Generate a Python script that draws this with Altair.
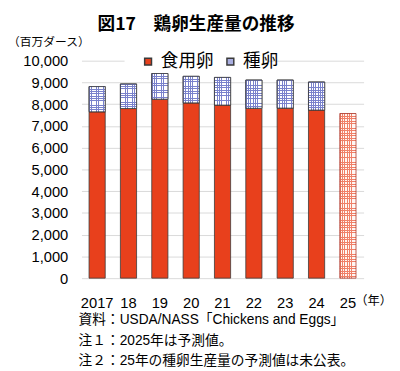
import altair as alt
import pandas as pd

years = ["2017", "18", "19", "20", "21", "22", "23", "24", "25"]
table_eggs = [7650, 7800, 8230, 8060, 7960, 7810, 7820, 7730, 7570]   # 食用卵 (million dozen)
hatching = [1160, 1130, 1180, 1220, 1270, 1300, 1290, 1290, None]     # 種卵 (2025 not published)
series = ["食用卵", "種卵"]
y_ticks = [0, 1000, 2000, 3000, 4000, 5000, 6000, 7000, 8000, 9000, 10000]

title_text = "図17　鶏卵生産量の推移"
unit_text = "（百万ダース）"
year_unit = "（年）"
notes = [
    "資料：USDA/NASS「Chickens and Eggs」",
    "注１：2025年は予測値。",
    "注２：25年の種卵生産量の予測値は未公表。",
]

RED = "#e8401c"
LAV = "#a9aee0"
JP = "Liberation Sans, Noto Sans CJK JP"

rows = []
for y, t, h in zip(years, table_eggs, hatching):
    if h is None:
        continue
    rows.append({"year": y, "series": series[0], "start": 0, "end": t, "ord": 0})
    rows.append({"year": y, "series": series[1], "start": t, "end": t + h, "ord": 1})
df = pd.DataFrame(rows)
df_h = df[df["series"] == series[1]]
df_fc = pd.DataFrame([{"year": y, "start": 0, "end": t}
                      for y, t, h in zip(years, table_eggs, hatching) if h is None])


def stripes(n, frac, line, gap, vertical):
    stops = []
    for k in range(n):
        a = k / n
        b = (k + frac) / n
        c = (k + 1) / n
        stops += [alt.GradientStop(offset=a, color=line), alt.GradientStop(offset=b, color=line),
                  alt.GradientStop(offset=b, color=gap), alt.GradientStop(offset=c, color=gap)]
    if vertical:
        return alt.LinearGradient(gradient="linear", stops=stops, x1=0, y1=0, x2=1, y2=0)
    return alt.LinearGradient(gradient="linear", stops=stops, x1=0, y1=0, x2=0, y2=1)


CLEAR = "rgba(255,255,255,0)"

xscale = alt.Scale(domain=years, paddingInner=0.484, paddingOuter=0.242)
yscale = alt.Scale(domain=[0, 10000], nice=False)

x_enc = alt.X("year:N", scale=xscale, sort=years,
              axis=alt.Axis(title=None, labelAngle=0, labelFontSize=15, labelFont="Liberation Sans",
                            labelColor="#000", domain=False, ticks=False, labelPadding=18, grid=False))
y_enc = alt.Y("end:Q", scale=yscale,
              axis=alt.Axis(title=None, values=y_ticks, format=",d", labelFontSize=15,
                            labelFont="Liberation Sans", labelColor="#000", domain=False, ticks=False,
                            labelPadding=14, grid=True, gridColor="#d9d9d9", gridWidth=1))

gap = alt.Chart(alt.Data(values=[{}])).mark_rect(color="white").encode(
    x=alt.value(44), x2=alt.value(190), y=alt.value(-3), y2=alt.value(3))

bars = alt.Chart(df).mark_bar(stroke="#3a3a3a", strokeWidth=0.8).encode(
    x=x_enc, y=y_enc, y2="start:Q",
    color=alt.Color("series:N", scale=alt.Scale(domain=series, range=[RED, LAV]),
                    legend=alt.Legend(title=None, orient="none", legendX=59, legendY=-8,
                                      direction="horizontal", symbolType="square", symbolSize=49,
                                      labelFontSize=18, labelFont="Noto Sans CJK JP", labelColor="#000",
                                      labelOffset=4, columnPadding=8, padding=0)),
    order=alt.Order("ord:Q"))

hatch_v = alt.Chart(df_h).mark_bar(
    fill=stripes(7, 0.34, "#7a82cc", "#ffffff", True), strokeWidth=0).encode(
    x=x_enc, y=y_enc, y2="start:Q")
hatch_h = alt.Chart(df_h).mark_bar(
    fill=stripes(11, 0.34, "#7a82cc", CLEAR, False), stroke="#3a3a3a", strokeWidth=0.8).encode(
    x=x_enc, y=y_enc, y2="start:Q")

fc_v = alt.Chart(df_fc).mark_bar(
    fill=stripes(7, 0.33, "#f08068", "#fff6f3", True), strokeWidth=0).encode(
    x=x_enc, y=y_enc, y2="start:Q")
fc_h = alt.Chart(df_fc).mark_bar(
    fill=stripes(68, 0.33, "#f08068", CLEAR, False), stroke="#a8362a", strokeWidth=0.8).encode(
    x=x_enc, y=y_enc, y2="start:Q")


def label(text, x, y, size, align="left", weight="normal", font=JP):
    return alt.Chart(alt.Data(values=[{}])).mark_text(
        text=text, fontSize=size, align=align, baseline="middle", fontWeight=weight,
        font=font, color="#000").encode(x=alt.value(x), y=alt.value(y))


texts = [
    label(title_text, 117, -36, 18, align="center", weight="bold", font="Noto Sans CJK JP"),
    label(unit_text, -75, -19, 12, font="Noto Sans CJK JP"),
    label(year_unit, 317, 245, 12.5, align="right", font="Noto Sans CJK JP"),
    label(notes[0], -3, 265, 14),
    label(notes[1], -3, 286, 14),
    label(notes[2], -3, 307, 14),
]

chart = alt.layer(gap, bars, hatch_v, hatch_h, fc_v, fc_h, *texts).properties(
    width=288, height=222,
    autosize=alt.AutoSizeParams(type="none"),
    padding={"left": 75, "top": 50, "right": 29, "bottom": 91},
).configure_view(stroke=None)

chart.save("out.html", embed_options={"renderer": "svg", "actions": False})
